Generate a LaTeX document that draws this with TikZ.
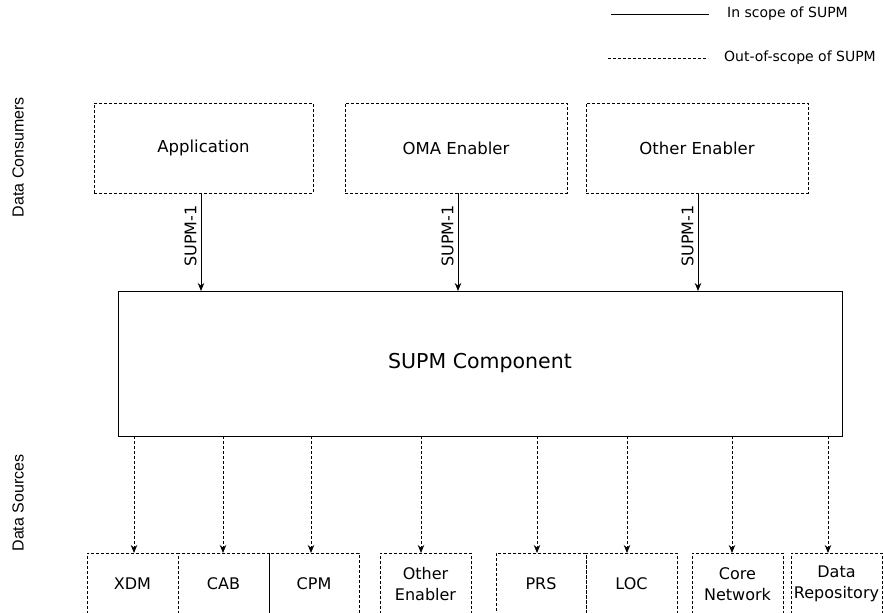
\documentclass[tikz,border=0pt]{standalone}
\usepackage{fontspec}
\setmainfont{DejaVu Sans}
\newfontfamily\sidefont{Liberation Sans}
\usetikzlibrary{arrows.meta}
\begin{document}
\begin{tikzpicture}[x=1pt,y=-1pt,
  dsh/.style={dash pattern=on 3pt off 2pt},
  outbox/.style={draw, dsh, line width=0.8pt, inner sep=0pt, font=\fontsize{16.5}{19}\selectfont, align=center},
  srcbox/.style={draw, dsh, line width=0.8pt, inner sep=0pt},
  srctext/.style={font=\fontsize{16}{21}\selectfont, align=center},
  inarrow/.style={line width=1pt, -{Stealth[length=8pt,width=6.5pt]}},
  outarrow/.style={line width=1pt, dsh, -{Stealth[length=8pt,width=6.5pt]}},
  lbl/.style={font=\fontsize{14}{16}\selectfont},
  iflbl/.style={font=\fontsize{16}{18}\selectfont, rotate=90, anchor=south, inner sep=4pt},
  side/.style={font=\sidefont\fontsize{16}{18}\selectfont, rotate=90}
]
\useasboundingbox (0,0) rectangle (884,613);
\clip (0,0) rectangle (884,613);
\fill[white] (0,0) rectangle (884,613);

% legend
\coordinate (l1a) at (611,14); \coordinate (l1b) at (709,14);
\coordinate (l2a) at (608,58); \coordinate (l2b) at (708,58);
\draw[line width=1pt] (l1a) -- (l1b);
\draw[line width=0.8pt, dsh] (l2a) -- (l2b);
\node[lbl, anchor=west, inner sep=0pt] (lt1) at (727,14) {In scope of SUPM};
\node[lbl, anchor=west, inner sep=0pt] (lt2) at (724,58) {Out-of-scope of SUPM};

% side labels
\node[side] (dc) at (18,157) {Data Consumers};
\node[side] (ds) at (18,503) {Data Sources};

% consumers
\node[outbox, minimum width=219pt, minimum height=90pt] (app) at (203.5,148) {Application};
\node[outbox, minimum width=222pt, minimum height=90pt] (oma) at (456,148) {OMA Enabler};
\node[outbox, minimum width=222pt, minimum height=90pt] (oth) at (697,148) {Other Enabler};

% SUPM component
\node[draw, line width=1pt, minimum width=724pt, minimum height=145pt, font=\fontsize{20.5}{24}\selectfont] (supm) at (480,363.5) {SUPM Component};

% consumer arrows
\foreach \n/\x in {app/201, oma/458, oth/698}{
  \coordinate (\n t) at (\x,193);
  \coordinate (\n h) at (\x,291);
  \draw[inarrow] (\n t) -- node[iflbl, pos=0.44] {SUPM-1} (\n h);
}

% sources
\foreach \n/\xa/\xb/\t/\ax in {
  xdm/87/178/XDM/134,
  cab/178/269/CAB/223,
  cpm/269/359/CPM/311,
  oen/380/471/{Other\\Enabler}/421,
  prs/496/586/PRS/537,
  loc/586/677/LOC/627,
  cor/692/783/{Core\\Network}/732,
  rep/791/882/{Data\\Repository}/828}{
  \node[srcbox, minimum width=\xb pt-\xa pt, minimum height=70pt, anchor=north west] (\n) at (\xa,553) {};
  \node[srctext] (\n l) at ({(\xa+\xb)/2},584) {\t};
  \coordinate (\n s) at (\ax,436);
  \coordinate (\n e) at (\ax,553);
  \draw[outarrow] (\n s) -- (\n e);
}
\end{tikzpicture}
\end{document}
